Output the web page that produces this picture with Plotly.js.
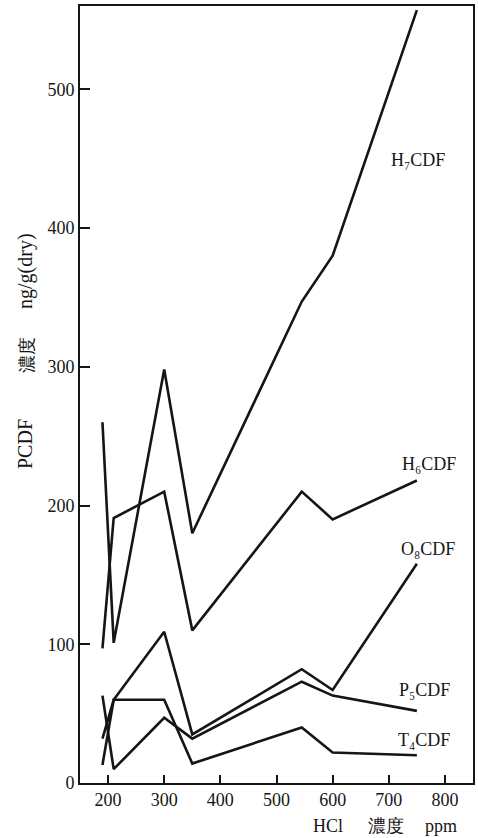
<!DOCTYPE html>
<html>
<head>
<meta charset="utf-8">
<script src="https://cdn.plot.ly/plotly-3.0.1.min.js"></script>
<style>html,body{margin:0;padding:0;background:#fff;}#chart{width:478px;height:838px;}</style>
</head>
<body>
<div id="chart"></div>
<script>
// HCl concentration (ppm)
const hcl = [190, 210, 300, 350, 545, 600, 750];
// PCDF concentration ng/g(dry)
const h7cdf = [260, 101, 298, 180, 347, 380, 557];
const h6cdf = [97, 191, 210, 110, 210, 190, 218];
const o8cdf = [32, 60, 109, 35, 82, 67, 158];
const p5cdf = [63, 10, 47, 32, 73, 63, 52];
const t4cdf = [13, 60, 60, 14, 40, 22, 20];
const seriesNames = ['H₇CDF', 'H₆CDF', 'O₈CDF', 'P₅CDF', 'T₄CDF'];
const xTicks = [200, 300, 400, 500, 600, 700, 800];
const yTicks = [0, 100, 200, 300, 400, 500];

const series = [h7cdf, h6cdf, o8cdf, p5cdf, t4cdf];
const labelPos = [[752, 449], [771, 230], [770, 169], [764, 67], [763, 31]];
const ink = '#151515';
const serif = '"Liberation Serif", "DejaVu Serif", serif';

const traces = series.map((ys, i) => ({
  x: hcl, y: ys, type: 'scatter', mode: 'lines', name: seriesNames[i],
  line: {color: ink, width: 2.6}, cliponaxis: true, hoverinfo: 'skip'
}));

const annotations = seriesNames.map((t, i) => ({
  x: labelPos[i][0], y: labelPos[i][1], xref: 'x', yref: 'y', text: t,
  showarrow: false, font: {family: serif, size: 18, color: ink}
}));

function sideText(text, xpx, ypx, size, angle) {
  return {
    xref: 'paper', yref: 'paper', x: 0, y: 0, xanchor: 'center', yanchor: 'middle',
    xshift: xpx - 80, yshift: 783 - ypx, text: text, showarrow: false,
    textangle: angle, font: {family: serif, size: size, color: ink}
  };
}
annotations.push(sideText('PCDF', 25, 444, 20, -90));
annotations.push(sideText('濃度', 27, 355, 18, -90));
annotations.push(sideText('ng/g(dry)', 25, 271, 20, -90));
annotations.push(sideText('HCl', 328, 826, 18, 0));
annotations.push(sideText('濃度', 386, 826, 18, 0));
annotations.push(sideText('ppm', 441, 826, 18, 0));

const layout = {
  width: 478, height: 838,
  margin: {l: 80, r: 5, t: 6, b: 55},
  paper_bgcolor: '#ffffff', plot_bgcolor: '#ffffff',
  showlegend: false,
  xaxis: {
    range: [150, 850], tickvals: xTicks, ticktext: xTicks.map(String),
    ticks: 'inside', ticklen: 8, tickwidth: 1.5, tickcolor: ink,
    showline: true, linecolor: ink, linewidth: 1.6, mirror: true,
    showgrid: false, zeroline: false,
    tickfont: {family: serif, size: 18, color: ink}
  },
  yaxis: {
    range: [0, 560], tickvals: yTicks, ticktext: yTicks.map(String),
    ticks: 'inside', ticklen: 10, tickwidth: 1.5, tickcolor: ink,
    showline: true, linecolor: ink, linewidth: 1.6, mirror: true,
    showgrid: false, zeroline: false,
    tickfont: {family: serif, size: 18, color: ink}
  },
  annotations: annotations
};

Plotly.newPlot('chart', traces, layout, {displayModeBar: false});
</script>
</body>
</html>
